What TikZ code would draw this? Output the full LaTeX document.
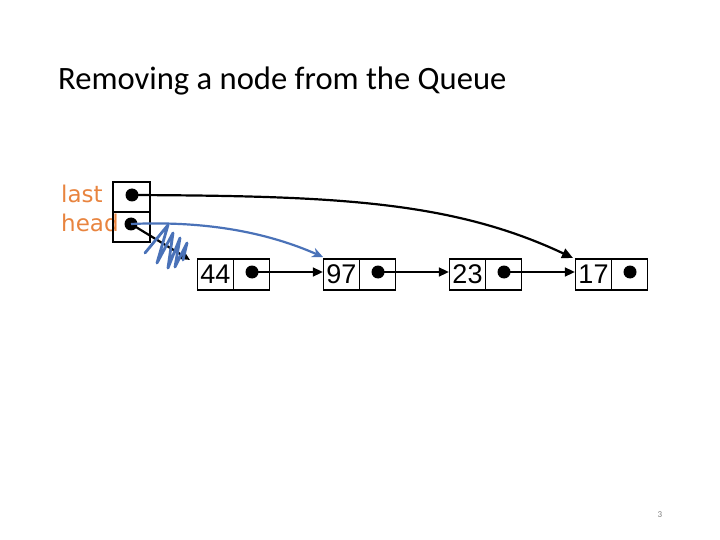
\documentclass[tikz,border=0pt]{standalone}
\usepackage{fontspec}
\setmainfont{Carlito}
\newfontfamily\lblfont{DejaVu Sans}
\newfontfamily\numfont{Liberation Sans}
\usetikzlibrary{arrows.meta}
\definecolor{lblorange}{HTML}{E8843F}
\definecolor{penblue}{HTML}{4A72B8}
\tikzset{
  cell/.style={draw, line width=1.3pt, minimum width=36pt, minimum height=31pt, inner sep=0pt, font=\numfont\fontsize{27}{27}\selectfont},
  hcell/.style={draw, line width=1.3pt, minimum width=37pt, minimum height=30pt, inner sep=0pt},
  ptdot/.style={circle, fill=black, inner sep=0pt, minimum size=13pt},
  link/.style={line width=1.6pt, -{Triangle[length=10pt,width=9pt]}},
  biglink/.style={line width=2.2pt, -{Triangle[length=11pt,width=10pt]}},
  bluelink/.style={line width=2.2pt, penblue, -{Stealth[length=11pt,width=10pt]}},
  lbl/.style={font=\lblfont\fontsize{23}{23}\selectfont, text=lblorange, inner sep=0pt, anchor=base west},
}
\begin{document}
\begin{tikzpicture}[x=1pt,y=-1pt]
\useasboundingbox (0,0) rectangle (720,540);
% title
\node[anchor=base west, inner sep=0pt, font=\fontsize{32.6}{32.6}\selectfont] (title) at (58,90) {Removing a node from the Queue};
% labels
\node[lbl] (lastlbl) at (61,203) {last};
\node[lbl] (headlbl) at (61,231) {head};
% queue header cells
\node[hcell] (lastbox) at (131.5,197) {};
\node[hcell] (headbox) at (131.5,227) {};
% list nodes
\foreach \v/\x in {44/197.5, 97/323.5, 23/449.5, 17/575.5}{
  \node[cell] (v\v) at (\x+18,274.5) {\v};
  \node[cell] (p\v) at (\x+54,274.5) {};
  \node[ptdot] (d\v) at (\x+54.5,272) {};
}
% links between list nodes
\draw[link] (d44.center) -- (d44.center -| v97.west);
\draw[link] (d97.center) -- (d97.center -| v23.west);
\draw[link] (d23.center) -- (d23.center -| v17.west);
% header dots
\node[ptdot] (ld) at (132,195) {};
\node[ptdot] (hd) at (131,224) {};
% last pointer
\coordinate (lasttip) at (573,258);
\draw[biglink] (ld.center) .. controls (330,196) and (450,200) .. (lasttip);
% old head pointer (crossed out)
\coordinate (oldtip) at (190,260);
\draw[biglink] (hd.center) -- (oldtip);
% scribble
\draw[penblue, line width=2.8pt, line join=round, line cap=round]
  (145,253) -- (168,225) -- (157,263) -- (173,233) -- (168,268) -- (180,238) -- (175,267) -- (187,243) -- (183,260);
% new head pointer
\coordinate (newtip) at (323,257);
\draw[bluelink] (hd.center) .. controls (220,220) and (280,238) .. (newtip);
% page number
\node[font=\fontsize{9}{9}\selectfont, text=gray, inner sep=0pt] (pg) at (660,515) {3};
\end{tikzpicture}
\end{document}
